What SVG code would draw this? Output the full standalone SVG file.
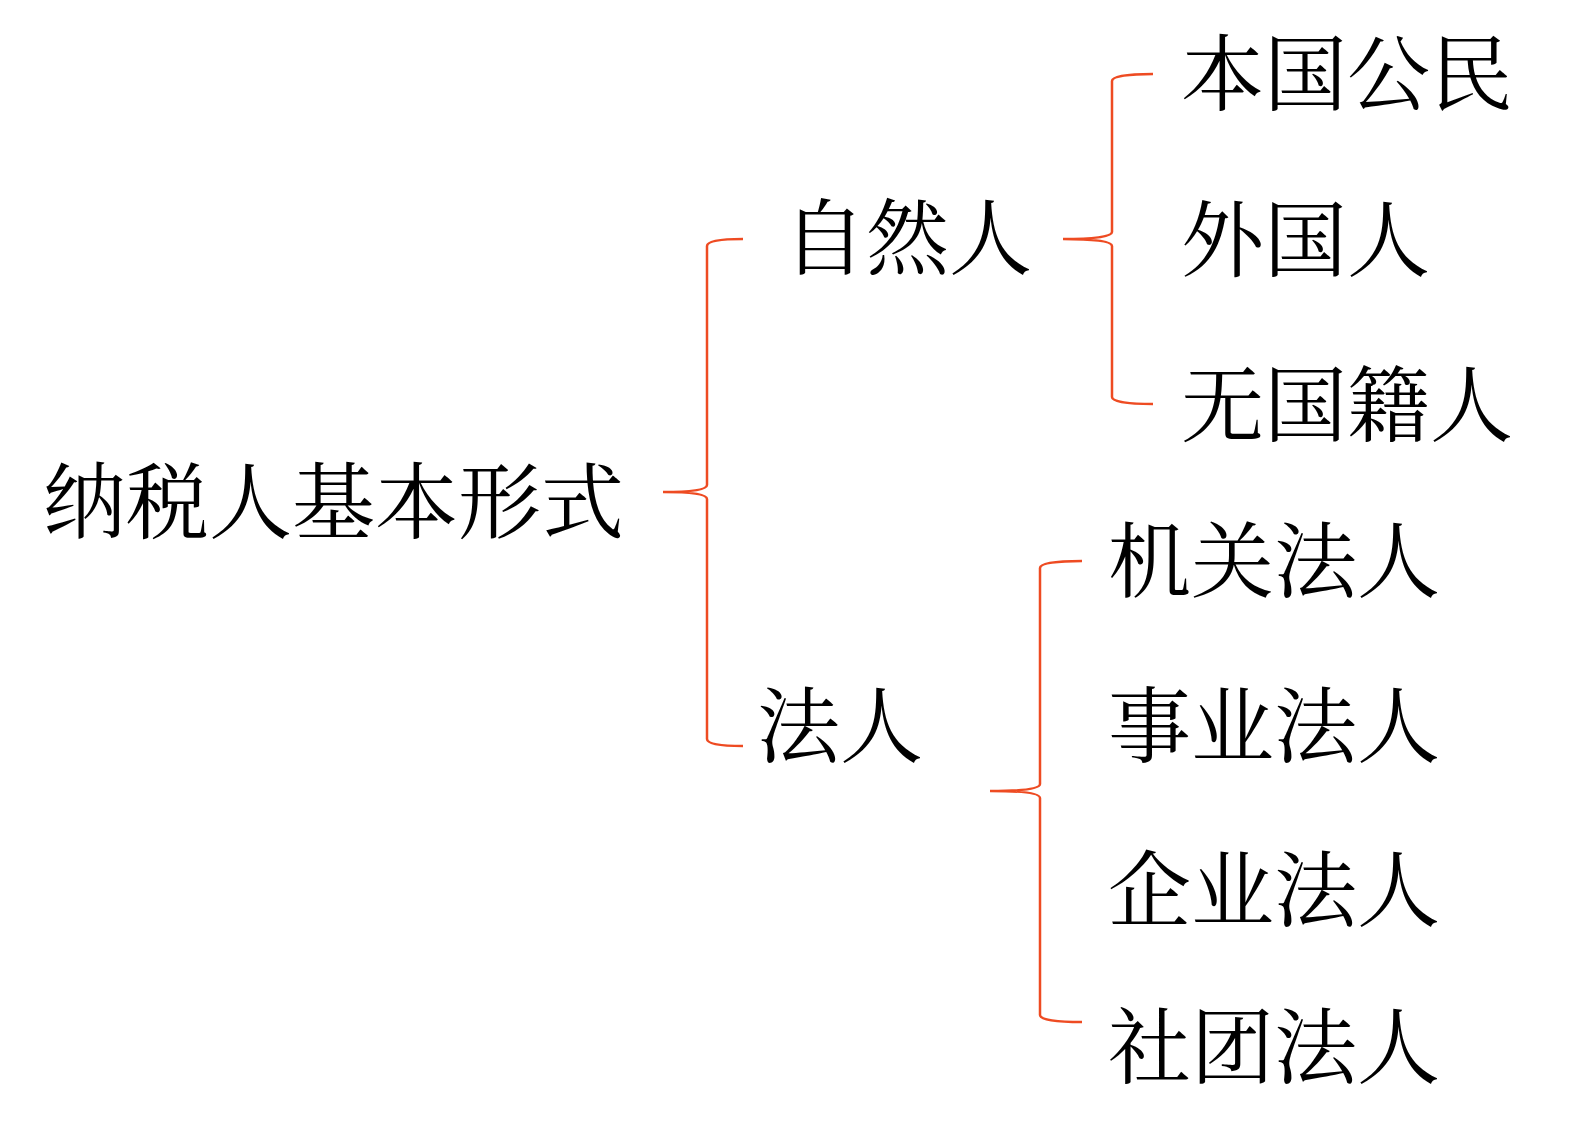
<svg xmlns="http://www.w3.org/2000/svg" width="1585" height="1122" viewBox="0 0 1585 1122">
<style>
.t{font-family:"Noto Serif CJK SC","Noto Sans CJK SC",serif;font-size:83px;fill:#000}
.b{fill:none;stroke:#EE4B22;stroke-width:2.5}
</style>
<rect width="1585" height="1122" fill="#fff"/>
<g id="connectors">
<path class="b" d="M743,239 C720,239 707,241 707,246 L707,485 C707,490 690,492 663,492 C690,492 707,494 707,499 L707,739 C707,744 720,746 743,746"/>
<path class="b" d="M1153,74 C1130,74 1112,76 1112,81 L1112,232 C1112,237 1092,239 1063,239 C1092,239 1112,241 1112,246 L1112,397 C1112,402 1130,404 1153,404"/>
<path class="b" d="M1082,561 C1058,561 1040,563 1040,568 L1040,784 C1040,789 1020,791 990,791 C1020,791 1040,793 1040,798 L1040,1015 C1040,1020 1058,1022 1082,1022"/>
</g>
<g id="root"><text class="t" x="43" y="532">纳税人基本形式</text></g>
<g id="natural"><text class="t" x="783" y="268">自然人</text></g>
<g id="legal"><text class="t" x="757" y="756">法人</text></g>
<g id="citizen"><text class="t" x="1181" y="104">本国公民</text></g>
<g id="foreigner"><text class="t" x="1181" y="270">外国人</text></g>
<g id="stateless"><text class="t" x="1181" y="435">无国籍人</text></g>
<g id="organ"><text class="t" x="1108" y="591">机关法人</text></g>
<g id="institution"><text class="t" x="1108" y="756">事业法人</text></g>
<g id="enterprise"><text class="t" x="1108" y="920">企业法人</text></g>
<g id="society"><text class="t" x="1108" y="1077">社团法人</text></g>
</svg>
